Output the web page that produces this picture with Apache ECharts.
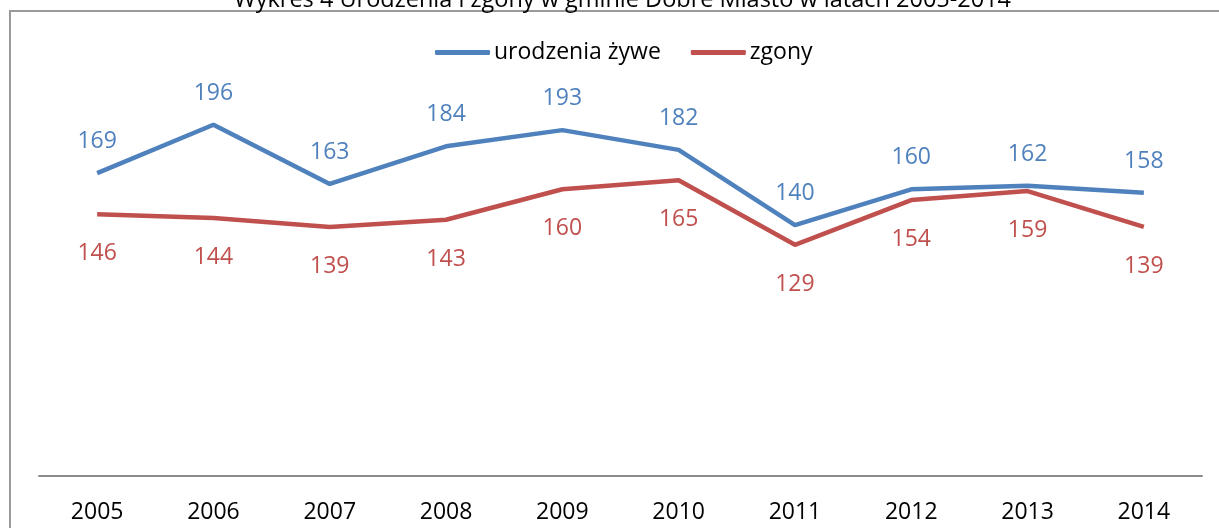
<!DOCTYPE html>
<html lang="pl">
<head>
    <meta charset="UTF-8">
    <title>Urodzenia i zgony</title>
    <script src="https://cdn.jsdelivr.net/npm/echarts@6/dist/echarts.min.js"></script>
    <style>
        body { margin: 0; padding: 0; background: #fff; }
        #chart { width: 1219px; height: 528px; }
    </style>
</head>
<body>
    <div id="chart"></div>
    <script>
        // dane z wykresu
        const years = ['2005', '2006', '2007', '2008', '2009', '2010', '2011', '2012', '2013', '2014'];
        const births = [169, 196, 163, 184, 193, 182, 140, 160, 162, 158];
        const deaths = [146, 144, 139, 143, 160, 165, 129, 154, 159, 139];

        const font = '"Open Sans", sans-serif';
        const blue = '#4F81BD';
        const red = '#C0504D';

        const chart = echarts.init(document.getElementById('chart'));
        chart.setOption({
            animation: false,
            title: {
                text: 'Wykres 4 Urodzenia i zgony w gminie Dobre Miasto w latach 2005-2014',
                left: 229,
                top: -17,
                textStyle: { fontFamily: font, fontSize: 23.5, fontWeight: 'normal', color: '#000' }
            },
            graphic: [{
                type: 'polyline',
                shape: { points: [[10, 540], [10, 11], [1219, 11]] },
                style: { stroke: '#9a9a9a', lineWidth: 2, fill: null }
            }],
            legend: {
                top: 36,
                left: 430,
                itemWidth: 55,
                itemHeight: 5,
                itemGap: 30,
                icon: 'roundRect',
                textStyle: { fontFamily: font, fontSize: 23, color: '#000', padding: [0, 0, 0, -1] },
                data: ['urodzenia żywe', 'zgony']
            },
            grid: { left: 39, right: 17, top: 28, bottom: 52 },
            xAxis: {
                type: 'category',
                data: years,
                boundaryGap: true,
                axisTick: { show: false },
                axisLine: { lineStyle: { color: '#8c8c8c', width: 2 } },
                axisLabel: { fontFamily: font, fontSize: 23, color: '#000', margin: 25 }
            },
            yAxis: {
                type: 'value',
                min: 0,
                max: 250,
                show: false,
                splitLine: { show: false }
            },
            series: [
                {
                    name: 'urodzenia żywe',
                    type: 'line',
                    data: births,
                    symbol: 'circle',
                    symbolSize: 0.1,
                    color: blue,
                    lineStyle: { width: 4.5, color: blue },
                    label: {
                        show: true, position: 'top', distance: 20,
                        fontFamily: font, fontSize: 23, color: blue
                    }
                },
                {
                    name: 'zgony',
                    type: 'line',
                    data: deaths,
                    symbol: 'circle',
                    symbolSize: 0.1,
                    color: red,
                    lineStyle: { width: 4.5, color: red },
                    label: {
                        show: true, position: 'bottom', distance: 28,
                        fontFamily: font, fontSize: 23, color: red
                    }
                }
            ]
        });
    </script>
</body>
</html>
